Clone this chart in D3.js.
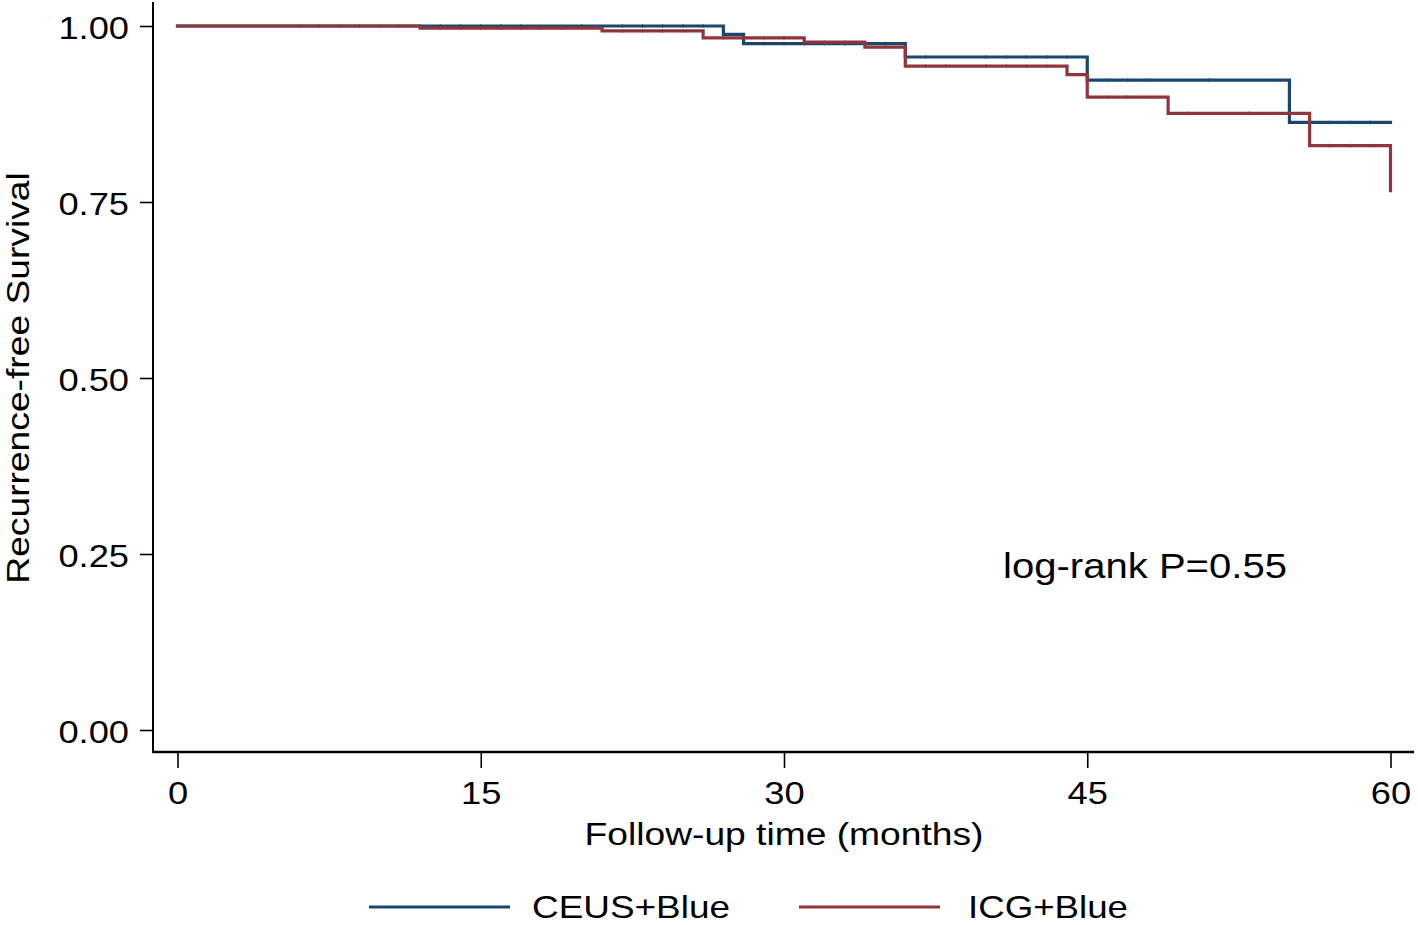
<!DOCTYPE html>
<html>
<head>
<meta charset="utf-8">
<script src="https://cdn.jsdelivr.net/npm/d3@7"></script>
<style>
  html, body { margin: 0; padding: 0; background: #fff; }
  svg { display: block; font-family: "Liberation Sans", Arial, Helvetica, sans-serif; }
</style>
</head>
<body>
<svg id="chart" width="1418" height="925"></svg>
<script>
// ---- data ----
const seriesNames = ["CEUS+Blue", "ICG+Blue"];
// step times (months) and survival after each step
const ceusTimes = [0, 27, 28, 36, 45, 55, 60];
const ceusSurv  = [1.000, 0.988, 0.975, 0.956, 0.923, 0.863, 0.863];
const icgTimes  = [0, 12, 21, 26, 31, 34, 36, 44, 45, 49, 56, 60];
const icgSurv   = [1.000, 0.997, 0.993, 0.983, 0.977, 0.970, 0.943, 0.931, 0.899, 0.876, 0.830, 0.766];
// censoring times (small tick marks)
const ceusCensor = [13, 14, 15, 16, 17, 20, 22, 23, 24, 25, 26, 29, 30, 31, 32, 33, 35, 37, 40, 41, 42, 43, 44, 46, 47, 48, 51, 57, 58, 59];
const icgCensor  = [6, 7, 8, 9, 10, 11, 13, 14, 15, 16, 17, 18, 19, 22, 23, 24, 25, 27, 28, 29, 30, 32, 33, 35, 37, 38, 40, 41, 42, 43, 46, 47, 50, 53, 57, 58, 59];
const xTicks = [0, 15, 30, 45, 60];
const yTicks = [0, 0.25, 0.5, 0.75, 1.0];
const yTickLabels = ["0.00", "0.25", "0.50", "0.75", "1.00"];
const annotation = "log-rank P=0.55";
const xTitle = "Follow-up time (months)";
const yTitle = "Recurrence-free Survival";

// ---- layout ----
const colors = ["#1a476f", "#90353b"];
const svg = d3.select("#chart");
const x = d3.scaleLinear().domain([0, 60]).range([177.5, 1390.5]);
const y = d3.scaleLinear().domain([0, 1]).range([730, 26]);
const axisLeftX = 153, axisBottomY = 752;
const fontSize = 31;
const stretch = 1.2;

function widen(sel, factor) {
  sel.each(function () {
    const w = this.getComputedTextLength();
    d3.select(this).attr("textLength", w * (factor || stretch)).attr("lengthAdjust", "spacingAndGlyphs");
  });
}

// axes lines
svg.append("line").attr("x1", axisLeftX).attr("x2", axisLeftX).attr("y1", 2).attr("y2", axisBottomY + 1)
  .attr("stroke", "#000").attr("stroke-width", 2);
svg.append("line").attr("x1", axisLeftX).attr("x2", 1414).attr("y1", axisBottomY).attr("y2", axisBottomY)
  .attr("stroke", "#000").attr("stroke-width", 2.5);

// y axis
const yAxis = d3.axisLeft(y).tickValues(yTicks).tickSize(13).tickPadding(11)
  .tickFormat(d => yTickLabels[yTicks.indexOf(d)]);
const gy = svg.append("g").attr("transform", `translate(${axisLeftX},0)`).call(yAxis);
gy.select(".domain").remove();
gy.selectAll(".tick line").attr("stroke", "#000").attr("stroke-width", 1.6);
gy.selectAll(".tick text").attr("font-size", fontSize).attr("fill", "#000").attr("dy", "0.4em")
  .attr("font-family", "Liberation Sans, Arial, sans-serif").call(widen, 1.17);

// x axis
const xAxis = d3.axisBottom(x).tickValues(xTicks).tickSize(15).tickPadding(14).tickFormat(d3.format("d"));
const gx = svg.append("g").attr("transform", `translate(0,${axisBottomY + 1})`).call(xAxis);
gx.select(".domain").remove();
gx.selectAll(".tick line").attr("stroke", "#000").attr("stroke-width", 1.6);
gx.selectAll(".tick text").attr("font-size", fontSize).attr("fill", "#000")
  .attr("font-family", "Liberation Sans, Arial, sans-serif").call(widen, 1.17);

// titles
svg.append("text").attr("x", x(30)).attr("y", 845).attr("text-anchor", "middle")
  .attr("font-size", fontSize).text(xTitle).call(widen);
svg.append("text").attr("transform", `translate(29,${y(0.5)}) rotate(-90)`).attr("text-anchor", "middle")
  .attr("font-size", fontSize).text(yTitle).call(widen);

// curves
function stepPoints(times, surv) {
  const pts = [[times[0], surv[0]]];
  for (let i = 1; i < times.length; i++) {
    pts.push([times[i], surv[i - 1]]);
    pts.push([times[i], surv[i]]);
  }
  return pts;
}
function survAt(times, surv, t) {
  let s = surv[0];
  for (let i = 0; i < times.length; i++) if (times[i] <= t) s = surv[i];
  return s;
}
const line = d3.line().x(d => x(d[0])).y(d => y(d[1]));
const series = [
  { times: ceusTimes, surv: ceusSurv, censor: ceusCensor, color: colors[0] },
  { times: icgTimes, surv: icgSurv, censor: icgCensor, color: colors[1] }
];
series.forEach(s => {
  svg.append("path").datum(stepPoints(s.times, s.surv)).attr("d", line)
    .attr("fill", "none").attr("stroke", s.color).attr("stroke-width", 3.2)
    .attr("stroke-linejoin", "miter").attr("stroke-linecap", "square");
  svg.append("g").selectAll("line").data(s.censor).join("line")
    .attr("x1", d => x(d)).attr("x2", d => x(d))
    .attr("y1", d => y(survAt(s.times, s.surv, d)) - 2)
    .attr("y2", d => y(survAt(s.times, s.surv, d)) + 2)
    .attr("stroke", s.color).attr("stroke-width", 1).attr("opacity", 0.7);
});

// annotation
svg.append("text").attr("x", 1003).attr("y", 578).attr("font-size", 35).text(annotation)
  .attr("textLength", 284).attr("lengthAdjust", "spacingAndGlyphs");

// legend
const legendItems = [
  { name: seriesNames[0], color: colors[0], x1: 369, x2: 510, tx: 532, w: 198 },
  { name: seriesNames[1], color: colors[1], x1: 799, x2: 940, tx: 968, w: 160 }
];
legendItems.forEach(l => {
  svg.append("line").attr("x1", l.x1).attr("x2", l.x2).attr("y1", 907).attr("y2", 907)
    .attr("stroke", l.color).attr("stroke-width", 3);
  svg.append("text").attr("x", l.tx).attr("y", 918).attr("font-size", 32).text(l.name)
    .attr("textLength", l.w).attr("lengthAdjust", "spacingAndGlyphs");
});
</script>
</body>
</html>
